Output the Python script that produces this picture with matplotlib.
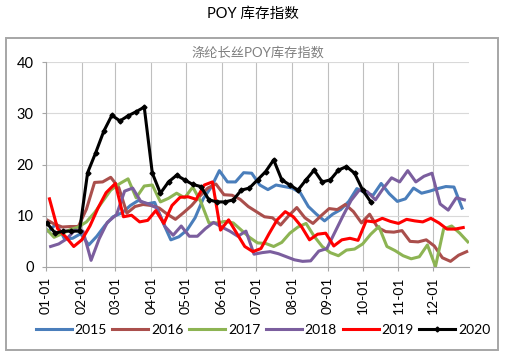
import numpy as np
import pandas as pd
import matplotlib
matplotlib.use('Agg')
import matplotlib.pyplot as plt
from matplotlib.patches import Rectangle

plt.rcParams['font.family'] = ['Lato', 'Noto Sans CJK SC', 'DejaVu Sans']

# weekly POY inventory index, one list per year
years = ['2015', '2016', '2017', '2018', '2019', '2020']
first_dates = ['2015-01-03', '2016-01-01', '2017-01-01', '2018-01-05', '2019-01-04', '2020-01-02']

v2015 = [7.0, 8.4, 5.5, 5.6, 6.5, 4.3, 6.0, 8.1, 9.8, 10.6, 12.0, 13.0, 12.3, 12.6,
         8.8, 5.3, 5.9, 7.2, 9.6, 13.3, 15.6, 18.8, 16.6, 16.6, 18.4, 18.3, 16.0,
         15.1, 16.0, 15.7, 15.4, 14.5, 11.8, 10.3, 9.0, 10.3, 11.2, 12.8, 15.3, 14.5,
         14.0, 16.3, 14.3, 12.8, 13.3, 15.4, 14.4, 14.8, 15.3, 15.7, 15.6, 11.5]
v2016 = [9.3, 8.4, 7.8, 7.9, 7.9, 11.3, 16.5, 16.6, 17.5, 15.5, 10.5, 11.8, 12.2,
         12.0, 11.5, 10.3, 9.3, 10.6, 12.0, 13.8, 15.4, 16.2, 14.1, 14.0, 13.2, 11.8,
         10.8, 9.8, 9.6, 8.2, 10.0, 11.6, 9.6, 8.5, 10.0, 11.4, 11.2, 12.2, 10.8, 8.6,
         10.3, 7.7, 6.9, 6.8, 7.1, 5.0, 4.9, 5.3, 4.1, 1.8, 1.1, 2.3, 3.0]
v2017 = [7.5, 5.8, 6.5, 7.3, 7.8, 8.8, 10.6, 12.8, 15.0, 16.3, 17.2, 13.5, 15.8,
         16.0, 12.7, 13.4, 14.4, 13.5, 15.6, 12.7, 8.6, 8.6, 8.9, 8.6, 7.2, 5.8, 4.7,
         4.6, 4.0, 4.8, 6.6, 7.8, 8.5, 6.0, 4.0, 2.8, 2.2, 3.3, 3.5, 4.5, 6.4, 7.9,
         4.0, 3.2, 2.2, 1.6, 2.0, 4.3, 0.1, 7.4, 8.0, 6.6, 4.9]
v2018 = [4.0, 4.5, 5.5, 7.2, 7.0, 1.3, 5.5, 8.7, 10.2, 14.8, 15.4, 12.8, 12.3, 11.5,
         7.9, 6.2, 8.0, 6.0, 6.0, 7.5, 8.7, 7.8, 7.0, 6.0, 7.0, 2.5, 2.8, 3.0, 2.6,
         2.0, 1.4, 1.1, 1.2, 3.1, 3.6, 6.8, 10.0, 13.0, 15.0, 14.7, 13.1, 15.4, 17.4,
         16.6, 18.8, 16.6, 17.7, 18.3, 12.3, 11.1, 13.5, 13.1]
v2019 = [13.3, 7.5, 5.9, 4.0, 5.3, 8.0, 11.5, 14.5, 16.3, 9.8, 10.1, 8.8, 9.1, 11.0,
         8.5, 12.0, 13.6, 13.7, 13.2, 16.0, 16.6, 7.2, 9.2, 6.6, 4.0, 3.0, 3.6, 6.5,
         9.2, 10.8, 9.8, 7.9, 5.3, 6.4, 6.6, 4.1, 5.3, 5.6, 5.2, 9.0, 8.8, 9.5, 8.9,
         8.5, 9.3, 9.0, 8.8, 9.5, 8.6, 7.4, 7.4, 7.7]
v2020 = [8.5, 6.6, 7.0, 7.0, 7.0, 18.4, 22.3, 26.5, 29.6, 28.5, 29.5, 30.3, 31.2,
         18.3, 14.4, 16.6, 17.9, 17.0, 16.1, 15.7, 13.1, 12.7, 12.7, 13.1, 15.0, 15.4,
         17.0, 18.6, 20.9, 17.0, 16.0, 15.0, 17.0, 18.9, 16.6, 17.0, 18.9, 19.6, 18.3,
         15.0, 12.7]
values = [v2015, v2016, v2017, v2018, v2019, v2020]

colors = ['#4A7EBB', '#AA4F4C', '#8DB453', '#7B5E9E', '#FF0000', '#000000']
month_labels = ['01-01', '02-01', '03-01', '04-01', '05-01', '06-01',
                '07-01', '08-01', '09-01', '10-01', '11-01', '12-01']


def to_axis_days(first, n):
    # put every weekly date on a common (leap-year) month-day axis
    dates = pd.date_range(first, periods=n, freq='7D')
    return np.array([(pd.Timestamp(2020, d.month, d.day) - pd.Timestamp(2020, 1, 1)).days
                     for d in dates])


fig = plt.figure(figsize=(5.05, 3.57), dpi=100)
fig.patches.append(Rectangle((6 / 505, 1 - 350 / 357), 492 / 505, 312 / 357,
                             transform=fig.transFigure, fill=False,
                             edgecolor='#A6A6A6', linewidth=1.4))
fig.text(0.5, 1 - 14 / 357, 'POY 库存指数', ha='center', va='center', fontsize=10.5)

ax = fig.add_axes([46 / 505, 1 - 267 / 357, 423 / 505, 205 / 357])
for year, first, vals, col in zip(years, first_dates, values, colors):
    x = to_axis_days(first, len(vals))
    if year == '2020':
        ax.plot(x, vals, color=col, lw=2.2, marker='D', ms=2.5, label=year, zorder=5)
    else:
        ax.plot(x, vals, color=col, lw=2.2, label=year)

month_days = [(pd.Timestamp(2020, m, 1) - pd.Timestamp(2020, 1, 1)).days for m in range(1, 13)]
ax.set_xlim(0, 366)
ax.set_ylim(0, 40)
ax.set_xticks(month_days)
ax.set_xticklabels(month_labels, rotation=90, fontsize=10)
ax.set_yticks([0, 10, 20, 30, 40])
ax.tick_params(axis='y', labelsize=10.5, length=3, color='#A6A6A6', pad=6)
ax.tick_params(axis='x', length=3, color='#A6A6A6', pad=4)
ax.grid(axis='y', color='#D9D9D9', lw=0.8)
ax.grid(axis='x', color='#BFBFBF', lw=0.8)
ax.set_axisbelow(True)
for s in ['top', 'right']:
    ax.spines[s].set_visible(False)
for s in ['left', 'bottom']:
    ax.spines[s].set_color('#A6A6A6')
    ax.spines[s].set_linewidth(0.8)

ax.set_title('涤纶长丝POY库存指数', fontsize=9.5, color='#7F7F7F', pad=4)

fig.legend(loc='center', bbox_to_anchor=(263 / 505, 1 - 330 / 357), ncol=6,
           frameon=False, fontsize=10, handlelength=2.6, handletextpad=0.2,
           columnspacing=0.4, borderpad=0)

fig.savefig('out.png', dpi=100)
